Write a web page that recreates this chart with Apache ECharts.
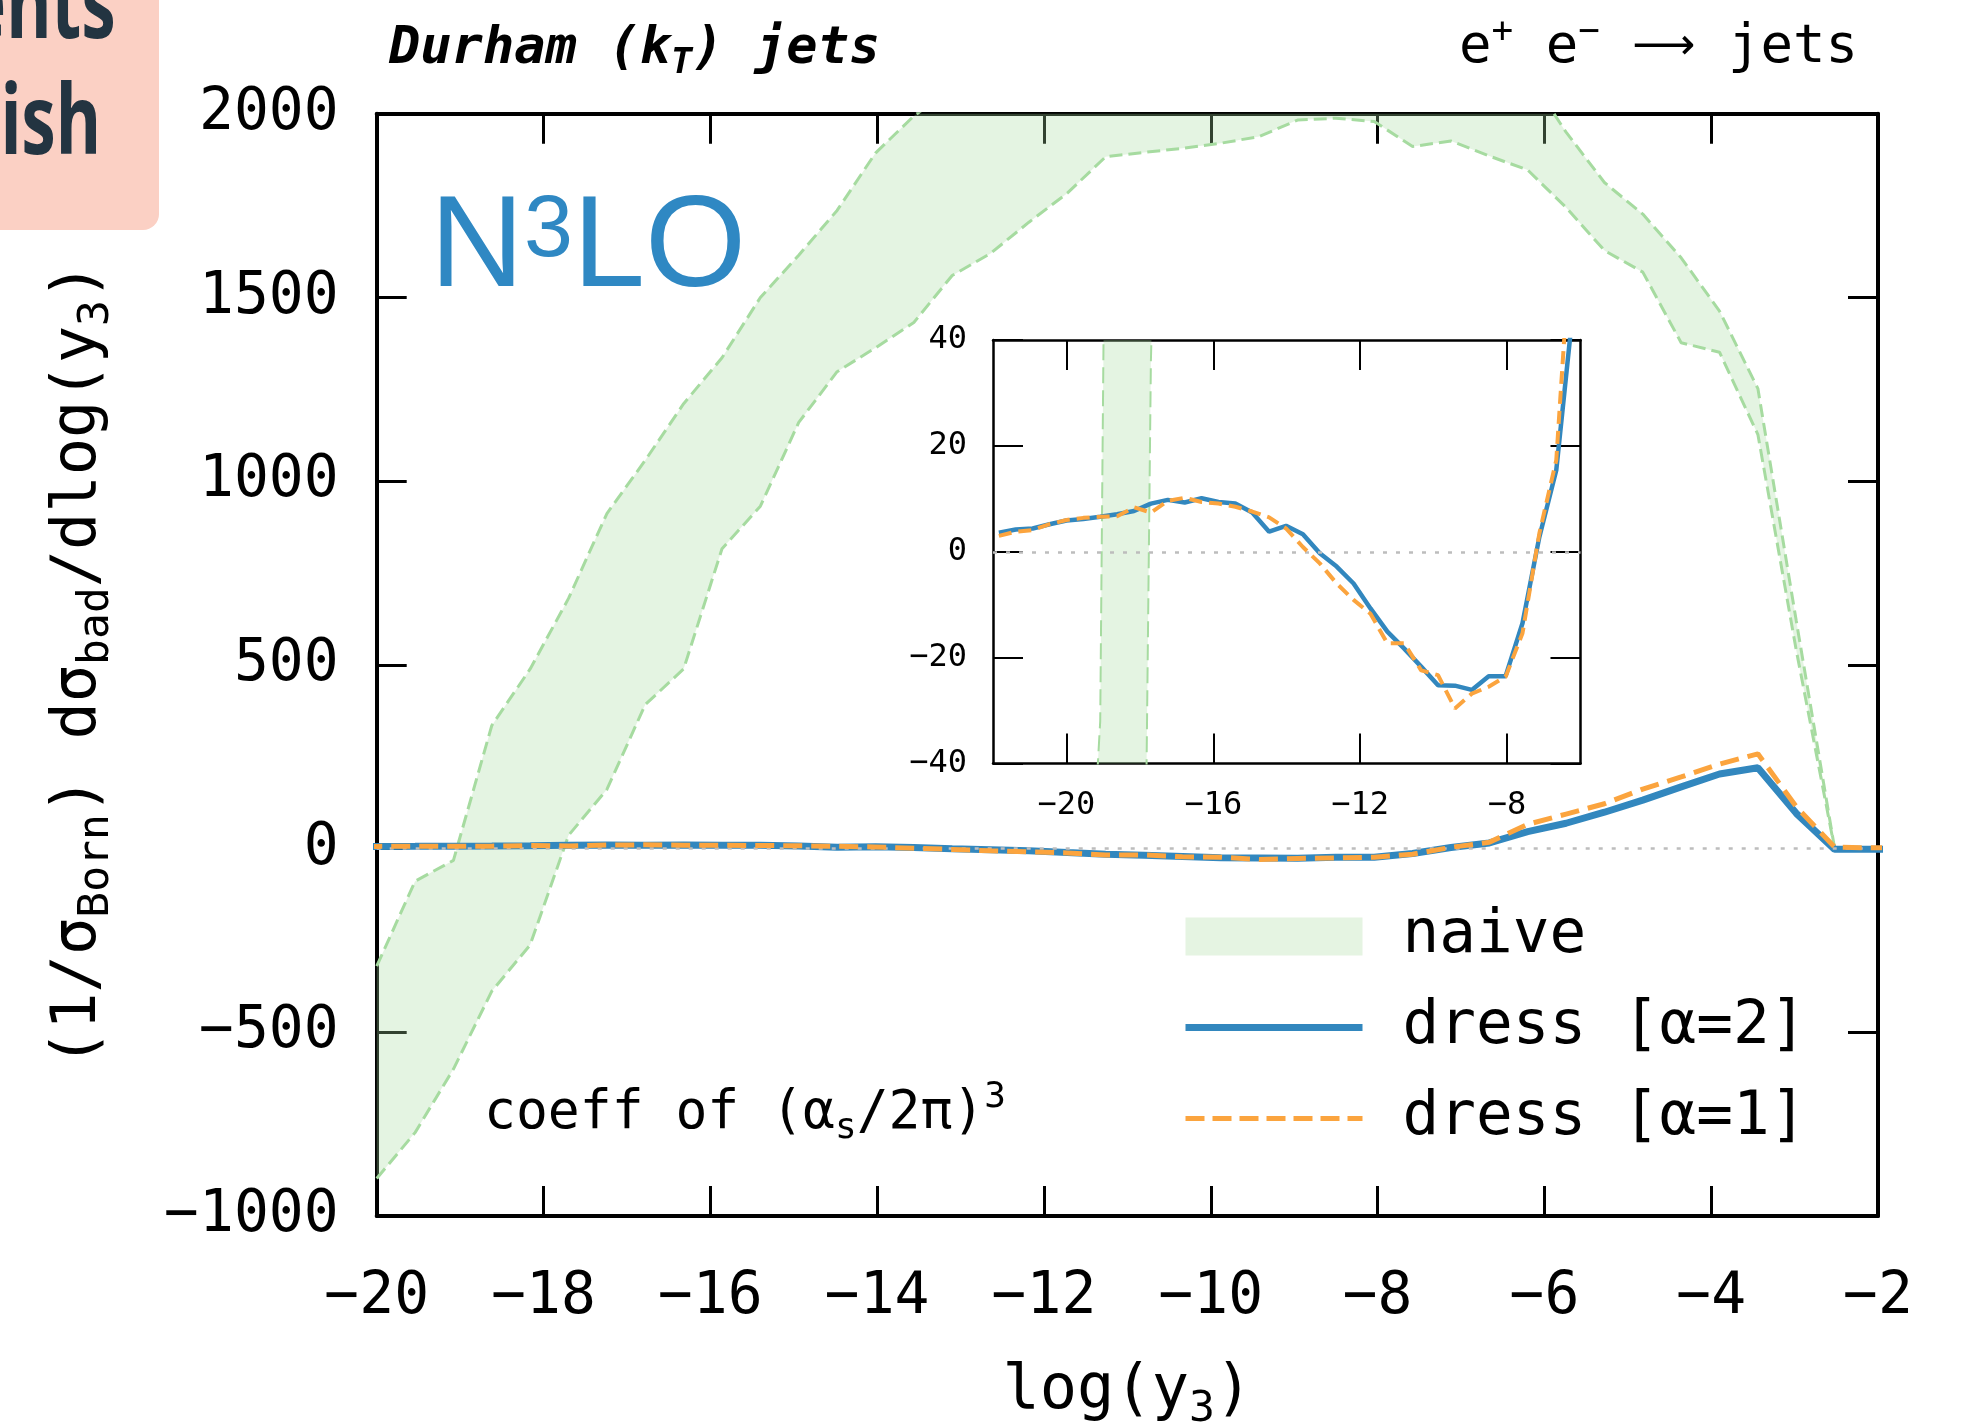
<!DOCTYPE html>
<html>
<head>
<meta charset="utf-8">
<title>Durham (kT) jets - N3LO</title>
<script src="https://cdn.jsdelivr.net/npm/echarts@6/dist/echarts.min.js"></script>
<style>
    html, body { margin: 0; padding: 0; background: #ffffff; }
    #chart { width: 1982px; height: 1424px; }
</style>
</head>
<body>
<div id="chart"></div>
<script>
var MONO = '"DejaVu Sans Mono", monospace';
var BLUE = '#3287be';
var ORANGE = '#fba43e';
var GREEN = '#a6dba0';

// log(y3) sample points
var logY3 = [-21.84, -21.38, -20.92, -20.46, -20.00, -19.54, -19.08, -18.62, -18.16, -17.70,
    -17.24, -16.78, -16.32, -15.86, -15.40, -14.94, -14.48, -14.02, -13.56, -13.10,
    -12.64, -12.18, -11.72, -11.26, -10.80, -10.34, -9.88, -9.42, -8.96, -8.50,
    -8.04, -7.58, -7.12, -6.66, -6.20, -5.74, -5.28, -4.82, -4.36, -3.90,
    -3.44, -2.98, -2.52, -2.06, -1.60];

// dress [a=2]
var dressA2 = [3.6, 4.2, 4.4, 5.2, 5.9, 6.2, 6.6, 7.1, 7.7, 9.1,
    9.8, 9.3, 10.1, 9.4, 9.1, 7.4, 3.8, 4.9, 3.3, -0.3,
    -2.8, -6.0, -10.7, -15.1, -18.3, -21.7, -25.2, -25.3, -26.1, -23.5,
    -23.5, -13.5, 2.8, 15.4, 46, 69, 99, 132, 168, 203,
    220, 96, -2, -2, -2];

// dress [a=1]
var dressA1 = [3.0, 3.8, 4.1, 5.2, 6.0, 6.4, 6.6, 6.7, 8.4, 7.4,
    9.6, 10.2, 9.4, 9.1, 8.5, 7.6, 6.5, 4.4, 0.9, -2.2,
    -6.0, -9.1, -11.7, -17.3, -17.3, -22.4, -23.3, -29.6, -26.8, -25.5,
    -23.6, -15.4, 3.5, 17.3, 66, 94, 122, 162, 195, 230,
    258, 114, 4, 2, 2];

// naive band, upper and lower edge
var naiveHi = [null, null, null, null, -320, -89, -32, 335, 489, 681,
    912, 1057, 1211, 1336, 1500, 1615, 1737, 1893, 1994, 2070,
    2140, 2200, 2250, 2290, 2310, 2320, 2330, 2330, 2320, 2300,
    2270, 2230, 2180, 2140, 2110, 1950, 1813, 1727, 1608, 1463,
    1252, 620, 0, 0, 0];
var naiveLo = [null, null, null, null, -898, -773, -600, -388, -262, 36,
    161, 392, 489, 816, 932, 1160, 1298, 1363, 1432, 1560,
    1620, 1705, 1784, 1883, 1895, 1906, 1920, 1938, 1983, 1988,
    1979, 1911, 1926, 1885, 1847, 1745, 1628, 1569, 1377, 1351,
    1127, 540, 0, 0, 0];

var mainXTicks = [-20, -18, -16, -14, -12, -10, -8, -6, -4, -2];
var mainYTicks = [-1000, -500, 0, 500, 1000, 1500, 2000];
var insetXTicks = [-20, -16, -12, -8];
var insetYTicks = [-40, -20, 0, 20, 40];

var legendNames = ['naive', 'dress [\u03b1=2]', 'dress [\u03b1=1]'];

function pts(ys) {
    var out = [];
    for (var i = 0; i < logY3.length; i++) {
        if (ys[i] !== null) out.push([logY3[i], ys[i]]);
    }
    return out;
}

// [x, lo, hi] rows for the band polygon
var bandRows = [];
for (var k = 0; k < logY3.length; k++) {
    if (naiveLo[k] !== null && naiveHi[k] !== null) {
        bandRows.push([logY3[k], naiveLo[k], naiveHi[k]]);
    }
}

function minus(v) {
    return String(v).replace('-', '\u2212');
}

/**
 * 坐标轴（主图 / 插图，四边都有向内的刻度）
 */
function makeAxis(dim, gridIndex, pos, range, ticks, big, showLabel) {
    return {
        type: 'value',
        gridIndex: gridIndex,
        position: pos,
        min: range[0],
        max: range[1],
        splitLine: {show: false},
        axisLine: {onZero: false, lineStyle: {color: '#000', width: big ? 4 : 2.5}},
        axisTick: {
            inside: true,
            length: 30,
            customValues: ticks,
            lineStyle: {color: '#000', width: big ? 3 : 2}
        },
        axisLabel: {
            show: showLabel,
            customValues: ticks,
            formatter: minus,
            fontFamily: MONO,
            fontSize: big ? 58 : 32,
            color: '#000',
            padding: dim === 'y' ? [big ? 10 : 6, 0, 0, 0] : 0,
            margin: big ? (dim === 'x' ? 53 : 38) : (dim === 'x' ? 26 : 26)
        }
    };
}

var nameRich = {
    m: {fontFamily: MONO, fontSize: 62, color: '#000'},
    s: {fontFamily: MONO, fontSize: 43, color: '#000', padding: [36, 0, 0, 0]}
};

var xMain = makeAxis('x', 0, 'bottom', [-20, -2], mainXTicks, true, true);
xMain.name = '{m|log(y}{s|3}{m|)}';
xMain.nameLocation = 'middle';
xMain.nameGap = 136;
xMain.nameTextStyle = {rich: nameRich};

var yMain = makeAxis('y', 0, 'left', [-1000, 2000], mainYTicks, true, true);
yMain.name = '{m|(1/\u03c3}{s|Born}{m|) d\u03c3}{s|bad}{m|/dlog(y}{s|3}{m|)}';
yMain.nameLocation = 'middle';
yMain.nameRotate = 90;
yMain.nameGap = 258;
yMain.nameTextStyle = {rich: nameRich};

function bandSeries(xi, yi, dash, width, withMark) {
    var line = {color: GREEN, width: width, type: dash};
    var fill = {
        name: 'naive',
        type: 'custom',
        xAxisIndex: xi,
        yAxisIndex: yi,
        clip: true,
        silent: true,
        z: 1,
        itemStyle: {color: GREEN},
        encode: {x: 0, y: [1, 2]},
        data: bandRows,
        renderItem: function (params, api) {
            if (params.dataIndex !== 0) return null;
            var top = [], bottom = [];
            for (var i = 0; i < bandRows.length; i++) {
                top.push(api.coord([bandRows[i][0], bandRows[i][2]]));
                bottom.unshift(api.coord([bandRows[i][0], bandRows[i][1]]));
            }
            return {
                type: 'polygon',
                shape: {points: top.concat(bottom)},
                style: {fill: GREEN, opacity: 0.3}
            };
        }
    };
    var lo = {
        name: 'naive-lo',
        type: 'line',
        xAxisIndex: xi,
        yAxisIndex: yi,
        symbol: 'none',
        lineStyle: line,
        z: 2,
        data: pts(naiveLo)
    };
    if (withMark) {
        lo.markLine = {
            silent: true,
            symbol: ['none', 'none'],
            label: {show: false},
            lineStyle: {color: '#bdbdbd', width: 2.5, type: [4, 9]},
            data: [{yAxis: 0}]
        };
    }
    var hi = {
        name: 'naive-hi',
        type: 'line',
        xAxisIndex: xi,
        yAxisIndex: yi,
        symbol: 'none',
        lineStyle: line,
        z: 2,
        data: pts(naiveHi)
    };
    return [fill, lo, hi];
}

function dressSeries(xi, yi, name, values, color, width, dash, z) {
    return {
        name: name,
        type: 'line',
        xAxisIndex: xi,
        yAxisIndex: yi,
        symbol: 'none',
        lineStyle: {color: color, width: width, type: dash},
        itemStyle: {color: color},
        z: z,
        data: pts(values)
    };
}

var series = [].concat(
    bandSeries(0, 0, [13, 6], 3, true),
    [dressSeries(0, 0, legendNames[1], dressA2, BLUE, 7, 'solid', 4),
        dressSeries(0, 0, legendNames[2], dressA1, ORANGE, 5, [19, 9], 5)],
    bandSeries(2, 2, [16, 7], 2, true),
    [dressSeries(2, 2, legendNames[1], dressA2, BLUE, 4.5, 'solid', 4),
        dressSeries(2, 2, legendNames[2], dressA1, ORANGE, 4, [13, 7], 5)]
);

var chart = echarts.init(document.getElementById('chart'));
chart.setOption({
    animation: false,
    backgroundColor: '#ffffff',
    grid: [
        {left: 376.7, top: 113.8, width: 1501.3, height: 1102.2, containLabel: false, outerBoundsMode: 'none'},
        {left: 993, top: 340, width: 587.5, height: 423.5, containLabel: false, outerBoundsMode: 'none'}
    ],
    xAxis: [
        xMain,
        makeAxis('x', 0, 'top', [-20, -2], mainXTicks, true, false),
        makeAxis('x', 1, 'bottom', [-22, -6], insetXTicks, false, true),
        makeAxis('x', 1, 'top', [-22, -6], insetXTicks, false, false)
    ],
    yAxis: [
        yMain,
        makeAxis('y', 0, 'right', [-1000, 2000], mainYTicks, true, false),
        makeAxis('y', 1, 'left', [-40, 40], insetYTicks, false, true),
        makeAxis('y', 1, 'right', [-40, 40], insetYTicks, false, false)
    ],
    legend: {
        orient: 'vertical',
        left: 1182,
        top: 906,
        padding: 0,
        itemWidth: 177,
        itemHeight: 38,
        itemGap: 30,
        selectedMode: false,
        itemStyle: {opacity: 0},
        textStyle: {fontFamily: MONO, fontSize: 61, color: '#000', padding: [0, 0, 0, 35]},
        data: [
            {name: legendNames[0], icon: 'rect', itemStyle: {color: '#e5f4e2', opacity: 1, borderWidth: 0}},
            {name: legendNames[1], lineStyle: {width: 7}},
            {name: legendNames[2], lineStyle: {width: 5, type: [19, 8]}}
        ]
    },
    graphic: [
        // 幻灯片背景的一角
        {type: 'rect', shape: {x: -20, y: -20, width: 179, height: 250, r: 16}, style: {fill: '#fbd0c4'}},
        {type: 'text', x: 116, y: 11, scaleX: 0.72, style: {text: 'ents', fill: '#233441', font: 'bold 96px "Noto Sans"', align: 'right', verticalAlign: 'middle'}},
        {type: 'text', x: 101, y: 127, scaleX: 0.72, style: {text: 'ish', fill: '#233441', font: 'bold 96px "Noto Sans"', align: 'right', verticalAlign: 'middle'}},
        {
            type: 'text', x: 389, y: 49,
            style: {
                text: '{b|Durham (k}{bs|T}{b|) jets}',
                align: 'left', verticalAlign: 'middle',
                rich: {
                    b: {fontFamily: MONO, fontSize: 52, fontWeight: 'bold', fontStyle: 'italic', fill: '#000'},
                    bs: {fontFamily: MONO, fontSize: 36, fontWeight: 'bold', fontStyle: 'italic', fill: '#000', padding: [30, 0, 0, 0]}
                }
            }
        },
        {
            type: 'text', x: 1858, y: 48,
            style: {
                text: '{m|e}{p|+}{m| e}{p|\u2212}{m| }{a|\u27f6}{m| jets}',
                align: 'right', verticalAlign: 'middle',
                rich: {
                    m: {fontFamily: MONO, fontSize: 54, fill: '#000'},
                    a: {fontFamily: '"DejaVu Sans", ' + MONO, fontSize: 44, fill: '#000'},
                    p: {fontFamily: MONO, fontSize: 36, fill: '#000', padding: [0, 0, 30, 0]}
                }
            }
        },
        {
            type: 'text', x: 430, y: 250,
            style: {
                text: '{n|N}{t|3}{n|LO}',
                align: 'left', verticalAlign: 'middle',
                rich: {
                    n: {fontFamily: '"Liberation Sans", sans-serif', fontSize: 130, fill: '#2f88c3'},
                    t: {fontFamily: '"Liberation Sans", sans-serif', fontSize: 88, fill: '#2f88c3', padding: [0, 0, 36, 0]}
                }
            }
        },
        {
            type: 'text', x: 484, y: 1114,
            style: {
                text: '{m|coeff of (\u03b1}{s|s}{m|/2\u03c0)}{p|3}',
                align: 'left', verticalAlign: 'middle',
                rich: {
                    m: {fontFamily: MONO, fontSize: 53, fill: '#000'},
                    s: {fontFamily: MONO, fontSize: 36, fill: '#000', padding: [30, 0, 0, 0]},
                    p: {fontFamily: MONO, fontSize: 36, fill: '#000', padding: [0, 0, 32, 0]}
                }
            }
        }
    ],
    series: series
});
</script>
</body>
</html>
